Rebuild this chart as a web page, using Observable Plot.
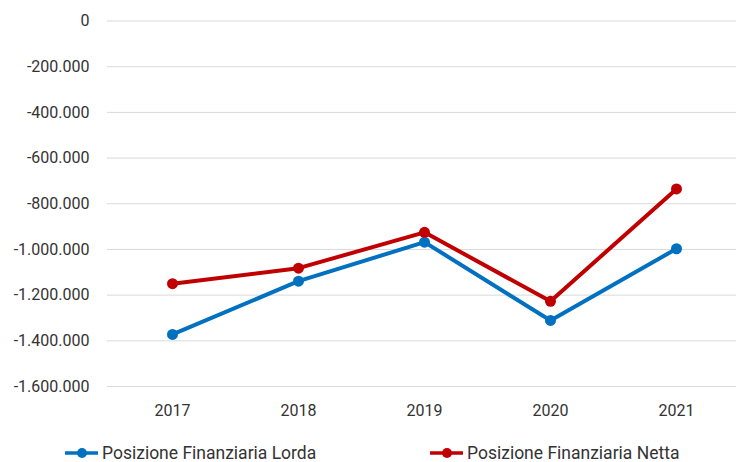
<!DOCTYPE html>
<html>
<head>
<meta charset="utf-8">
<script src="https://cdn.jsdelivr.net/npm/d3@7"></script>
<script src="https://cdn.jsdelivr.net/npm/@observablehq/plot@0.6"></script>
<style>
  html, body { margin: 0; padding: 0; background: #fff; }
  #wrap { position: relative; width: 736px; height: 462px; font-family: Roboto, "Liberation Sans", sans-serif; }
  .leg { position: absolute; top: 445px; height: 16px; display: flex; align-items: center; font-size: 17.5px; line-height: 16px; color: #333; white-space: nowrap; }
  .leg svg { margin-right: 4px; }
</style>
</head>
<body>
<div id="wrap"></div>
<script>
const years = ["2017", "2018", "2019", "2020", "2021"];
const lorda = [-1372000, -1139000, -968000, -1311000, -997000];
const netta = [-1150000, -1082000, -925000, -1227000, -735000];
const yTicks = [0, -200000, -400000, -600000, -800000, -1000000, -1200000, -1400000, -1600000];
const seriesNames = ["Posizione Finanziaria Lorda", "Posizione Finanziaria Netta"];
const colors = ["#0070C0", "#C00000"];

const data = [
  ...years.map((y, i) => ({year: y, value: lorda[i], series: seriesNames[0]})),
  ...years.map((y, i) => ({year: y, value: netta[i], series: seriesNames[1]}))
];

const loc = d3.formatLocale({decimal: ",", thousands: ".", grouping: [3], currency: ["", "€"], minus: "-"});
const fmt = loc.format(",d");

const chart = Plot.plot({
  width: 736,
  height: 430,
  marginLeft: 107,
  marginRight: 0,
  marginTop: 20.5,
  marginBottom: 44,
  style: {fontFamily: "Roboto, 'Liberation Sans', sans-serif", fontSize: "16px", color: "#333", background: "#fff"},
  x: {type: "point", domain: years, range: [171, 676], padding: 0, label: null},
  y: {domain: [-1600000, 0], label: null},
  color: {domain: seriesNames, range: colors},
  marks: [
    Plot.ruleY(yTicks, {stroke: "#d9d9d9", strokeWidth: 1}),
    Plot.axisY({ticks: yTicks, tickFormat: fmt, tickSize: 0, tickPadding: 18, label: null, fill: "#333"}),
    Plot.axisX({tickSize: 0, tickPadding: 18, label: null, fill: "#333"}),
    Plot.line(data, {x: "year", y: "value", z: "series", stroke: "series", strokeWidth: 4, strokeLinejoin: "round", strokeLinecap: "round"}),
    Plot.dot(data, {x: "year", y: "value", fill: "series", r: 5.5})
  ]
});

const wrap = document.getElementById("wrap");
wrap.appendChild(chart);

const legX = [65, 430];
seriesNames.forEach((name, i) => {
  const d = document.createElement("div");
  d.className = "leg";
  d.style.left = legX[i] + "px";
  d.innerHTML = `<svg width="33" height="14"><line x1="0" y1="7" x2="33" y2="7" stroke="${colors[i]}" stroke-width="3.5"/><circle cx="17" cy="7" r="5" fill="${colors[i]}"/></svg><span>${name}</span>`;
  wrap.appendChild(d);
});
</script>
</body>
</html>
